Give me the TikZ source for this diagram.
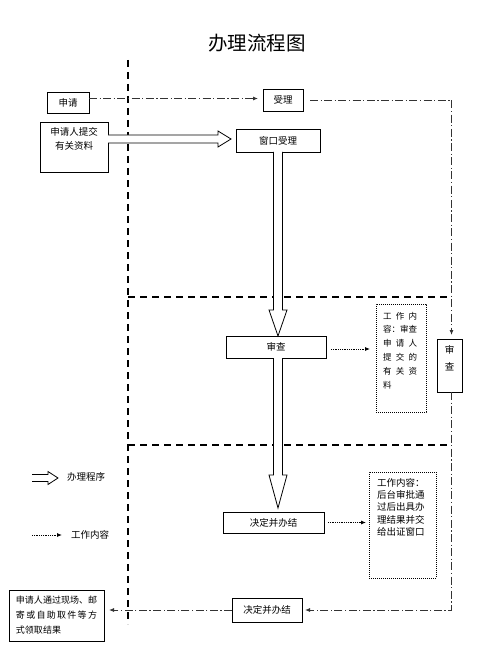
\documentclass[tikz,border=0pt]{standalone}
\usepackage{fontspec}
\setmainfont{Noto Sans CJK SC}
\usetikzlibrary{arrows.meta,calc}
\newcommand\hollowV[5]{%
  \draw[hollow] ($(#1)+(-#3,0)$) -- ($(#2)+(-#3,-#5)$) -- ($(#2)+(-#4,-#5)$) -- (#2)
     -- ($(#2)+(#4,-#5)$) -- ($(#2)+(#3,-#5)$) -- ($(#1)+(#3,0)$);}
\newcommand\hollowH[5]{%
  \draw[hollow] ($(#1)+(0,-#3)$) -- ($(#2)+(-#5,-#3)$) -- ($(#2)+(-#5,-#4)$) -- (#2)
     -- ($(#2)+(-#5,#4)$) -- ($(#2)+(-#5,#3)$) -- ($(#1)+(0,#3)$);}
\begin{document}
\begin{tikzpicture}[x=1pt,y=-1pt,
  every node/.style={inner sep=0pt, outer sep=0pt},
  txt/.style={font=\fontsize{9.5}{11}\selectfont},
  box/.style={draw, line width=0.8pt, txt},
  dotbox/.style={draw, line width=0.9pt, dash pattern=on 0.9pt off 1.1pt},
  bigdash/.style={line width=1.8pt, dash pattern=on 7pt off 5pt},
  dd/.style={line width=0.8pt, black!80, dash pattern=on 8pt off 2.5pt on 1.2pt off 2.5pt, -{Latex[length=5pt,width=4pt]}},
  dotarrow/.style={line width=0.8pt, dash pattern=on 0.8pt off 1pt, -{Latex[length=5pt,width=4pt]}},
  hollow/.style={draw, line width=0.8pt, fill=white, line join=miter},
]
\useasboundingbox (0,0) rectangle (489,647);

% title
\node[font=\fontsize{19.5}{22}\selectfont] (title) at (257,43) {办理流程图};

% separators
\coordinate (vtop) at (128,60);
\coordinate (vbot) at (128,624);
\coordinate (s1l) at (128,297);
\coordinate (s1r) at (450,297);
\coordinate (s2l) at (128,445);
\coordinate (s2r) at (450,445);
\draw[bigdash] (vtop) -- (vbot);
\draw[bigdash] (s1l) -- (s1r);
\draw[bigdash] (s2l) -- (s2r);

% boxes
\node[box, minimum width=42pt, minimum height=21pt] (shenqing) at (68,102.5) {申请};
\node[box, minimum width=40pt, minimum height=22pt] (shouli) at (283,100) {受理};
\node[box, minimum width=68pt, minimum height=50pt] (tijiao) at (74,147) {};
\node[align=center, anchor=north, font=\fontsize{9.5}{14}\selectfont] (tijiaot) at ([yshift=-5pt]tijiao.north) {申请人提交\\有关资料};
\node[box, minimum width=84pt, minimum height=23pt] (chuangkou) at (278,140.5) {窗口受理};
\node[box, minimum width=100pt, minimum height=22pt] (shencha) at (276,347) {审查};
\node[box, minimum width=101pt, minimum height=21pt] (jueding1) at (273.5,522.5) {决定并办结};
\node[box, minimum width=70pt, minimum height=24pt] (jueding2) at (267,610) {决定并办结};
\node[box, minimum width=25pt, minimum height=53pt] (rshencha) at (449.5,365.5) {};
\node[align=center, anchor=north, font=\fontsize{9.5}{17}\selectfont] (rshenchat) at ([yshift=-6pt]rshencha.north) {审\\查};

\node[dotbox, minimum width=50pt, minimum height=108pt] (dot1) at (401,358) {};
\node[anchor=north west, align=left, font=\fontsize{8.5}{13.8}\selectfont] (dot1t) at (383,312)
  {\hbox to 34pt{工\hfill 作\hfill 内}\\\hbox to 34pt{容：\hfill 审\hfill 查}\\\hbox to 34pt{申\hfill 请\hfill 人}\\\hbox to 34pt{提\hfill 交\hfill 的}\\\hbox to 34pt{有\hfill 关\hfill 资}\\料};

\node[dotbox, minimum width=67pt, minimum height=106pt] (dot2) at (402.5,525) {};
\node[anchor=north west, align=left, font=\fontsize{9.5}{12.4}\selectfont] (dot2t) at (377,478)
  {工作内容：\\后台审批通\\过后出具办\\理结果并交\\给出证窗口};

\node[box, minimum width=95pt, minimum height=51pt] (lastbox) at (56.5,615.5) {};
\node[anchor=north west, align=left, font=\fontsize{9}{15}\selectfont] (lastt) at (16,596)
  {\hbox to 81pt{申\hfill 请\hfill 人\hfill 通\hfill 过\hfill 现\hfill 场\hfill 、\hfill 邮}\\\hbox to 81pt{寄\hfill 或\hfill 自\hfill 助\hfill 取\hfill 件\hfill 等\hfill 方}\\式领取结果};

% legend
\coordinate (lg1s) at (32,478);
\coordinate (lg1e) at (58,478);
\node[txt, anchor=west] (lg1t) at (67,477) {办理程序};
\coordinate (lg2s) at (32,535);
\coordinate (lg2e) at (62,535);
\node[txt, anchor=west] (lg2t) at (71,535) {工作内容};
\hollowH{lg1s}{lg1e}{3.5}{6.5}{10}
\draw[dotarrow] (lg2s) -- (lg2e);

% dash-dot connectors
\draw[dd, shorten >=5pt] ([yshift=4pt]shenqing.east) -- ([yshift=4pt]shenqing.east -| shouli.west);
\draw[dd] ([xshift=7pt]shouli.east) -| ([xshift=2pt,yshift=4pt]rshencha.north);
\draw[dd] ([xshift=1.5pt]rshencha.south) |- ([xshift=3pt]jueding2.east);
\draw[dd, shorten >=5pt] (jueding2.west) -- (jueding2.west -| lastbox.east);

% dotted connectors
\draw[dotarrow, shorten >=6pt] ([xshift=5pt,yshift=-2pt]shencha.east) -- ([yshift=-2pt]shencha.east -| dot1.west);
\draw[dotarrow, shorten >=3pt] ([xshift=4pt]jueding1.east) -- (jueding1.east -| dot2.west);

% hollow arrows
\coordinate (a1s) at ([yshift=8pt]tijiao.east);
\coordinate (a1e) at ($(a1s -| chuangkou.west)+(-5,0)$);
\hollowH{a1s}{a1e}{4}{8}{13}
\coordinate (a2s) at (chuangkou.south);
\coordinate (a2e) at (chuangkou.south |- shencha.north);
\hollowV{a2s}{a2e}{4.5}{9}{26}
\coordinate (a3s) at (chuangkou.south |- shencha.south);
\coordinate (a3e) at ($(chuangkou.south |- jueding1.north)+(0,-4)$);
\hollowV{a3s}{a3e}{4.5}{9}{33}
\end{tikzpicture}
\end{document}
